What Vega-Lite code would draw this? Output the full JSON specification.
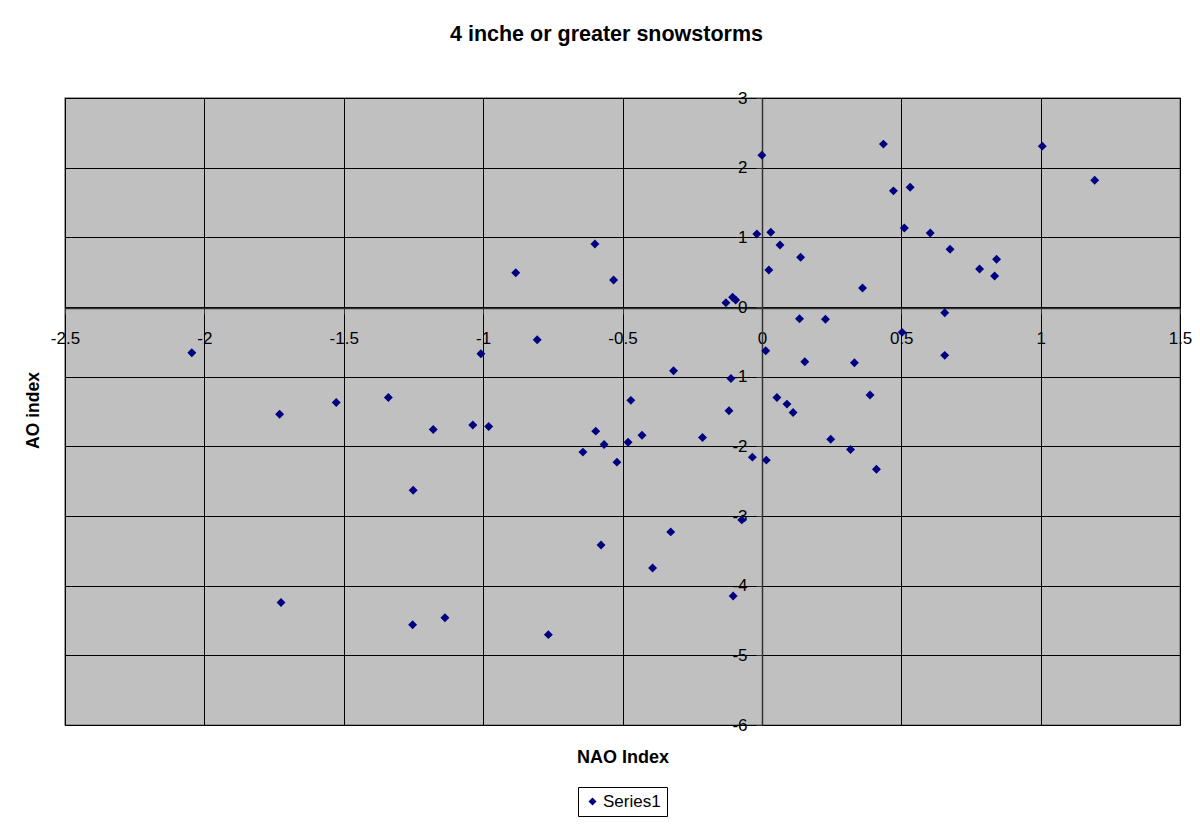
{
  "$schema": "https://vega.github.io/schema/vega-lite/v6.json",
  "width": 1115,
  "height": 627,
  "autosize": {"type": "none"},
  "padding": {"left": 65, "top": 98, "right": 20, "bottom": 100},
  "background": "white",
  "title": {"text": "4 inche or greater snowstorms", "font": "Liberation Sans", "fontSize": 21.5, "fontWeight": "bold", "color": "black", "anchor": "middle", "frame": "group", "offset": 44, "dx": -16},
  "data": {"values": [
    {"nao": -2.045, "ao": -0.657, "series": "Series1"},
    {"nao": -1.527, "ao": -1.37, "series": "Series1"},
    {"nao": -1.34, "ao": -1.3, "series": "Series1"},
    {"nao": -1.73, "ao": -1.54, "series": "Series1"},
    {"nao": -1.179, "ao": -1.757, "series": "Series1"},
    {"nao": -1.251, "ao": -2.63, "series": "Series1"},
    {"nao": -1.725, "ao": -4.243, "series": "Series1"},
    {"nao": -1.253, "ao": -4.56, "series": "Series1"},
    {"nao": -1.137, "ao": -4.46, "series": "Series1"},
    {"nao": 0.0, "ao": 2.18, "series": "Series1"},
    {"nao": -0.018, "ao": 1.049, "series": "Series1"},
    {"nao": 0.032, "ao": 1.073, "series": "Series1"},
    {"nao": 0.065, "ao": 0.89, "series": "Series1"},
    {"nao": 0.139, "ao": 0.714, "series": "Series1"},
    {"nao": 0.025, "ao": 0.53, "series": "Series1"},
    {"nao": -0.599, "ao": 0.905, "series": "Series1"},
    {"nao": -0.883, "ao": 0.493, "series": "Series1"},
    {"nao": -0.532, "ao": 0.388, "series": "Series1"},
    {"nao": -0.129, "ao": 0.062, "series": "Series1"},
    {"nao": -0.105, "ao": 0.139, "series": "Series1"},
    {"nao": -0.094, "ao": 0.1, "series": "Series1"},
    {"nao": 0.135, "ao": -0.168, "series": "Series1"},
    {"nao": 0.228, "ao": -0.177, "series": "Series1"},
    {"nao": -0.806, "ao": -0.47, "series": "Series1"},
    {"nao": -1.008, "ao": -0.671, "series": "Series1"},
    {"nao": 0.014, "ao": -0.628, "series": "Series1"},
    {"nao": 0.154, "ao": -0.786, "series": "Series1"},
    {"nao": -0.317, "ao": -0.915, "series": "Series1"},
    {"nao": -0.111, "ao": -1.025, "series": "Series1"},
    {"nao": 0.054, "ao": -1.298, "series": "Series1"},
    {"nao": 0.09, "ao": -1.394, "series": "Series1"},
    {"nao": -0.47, "ao": -1.34, "series": "Series1"},
    {"nao": -0.118, "ao": -1.49, "series": "Series1"},
    {"nao": 0.436, "ao": 2.338, "series": "Series1"},
    {"nao": 1.006, "ao": 2.309, "series": "Series1"},
    {"nao": 1.194, "ao": 1.82, "series": "Series1"},
    {"nao": 0.472, "ao": 1.667, "series": "Series1"},
    {"nao": 0.532, "ao": 1.72, "series": "Series1"},
    {"nao": 0.511, "ao": 1.135, "series": "Series1"},
    {"nao": 0.604, "ao": 1.063, "series": "Series1"},
    {"nao": 0.675, "ao": 0.829, "series": "Series1"},
    {"nao": 0.781, "ao": 0.546, "series": "Series1"},
    {"nao": 0.842, "ao": 0.685, "series": "Series1"},
    {"nao": 0.835, "ao": 0.445, "series": "Series1"},
    {"nao": 0.361, "ao": 0.273, "series": "Series1"},
    {"nao": 0.656, "ao": -0.082, "series": "Series1"},
    {"nao": 0.503, "ao": -0.364, "series": "Series1"},
    {"nao": 0.656, "ao": -0.694, "series": "Series1"},
    {"nao": 0.332, "ao": -0.8, "series": "Series1"},
    {"nao": 0.388, "ao": -1.264, "series": "Series1"},
    {"nao": -1.037, "ao": -1.695, "series": "Series1"},
    {"nao": -0.98, "ao": -1.714, "series": "Series1"},
    {"nao": 0.112, "ao": -1.513, "series": "Series1"},
    {"nao": -0.596, "ao": -1.782, "series": "Series1"},
    {"nao": -0.566, "ao": -1.973, "series": "Series1"},
    {"nao": -0.642, "ao": -2.083, "series": "Series1"},
    {"nao": -0.52, "ao": -2.227, "series": "Series1"},
    {"nao": -0.48, "ao": -1.94, "series": "Series1"},
    {"nao": -0.43, "ao": -1.84, "series": "Series1"},
    {"nao": -0.213, "ao": -1.872, "series": "Series1"},
    {"nao": -0.034, "ao": -2.155, "series": "Series1"},
    {"nao": 0.016, "ao": -2.198, "series": "Series1"},
    {"nao": 0.247, "ao": -1.897, "series": "Series1"},
    {"nao": 0.318, "ao": -2.045, "series": "Series1"},
    {"nao": 0.411, "ao": -2.328, "series": "Series1"},
    {"nao": -0.072, "ao": -3.056, "series": "Series1"},
    {"nao": -0.327, "ao": -3.228, "series": "Series1"},
    {"nao": -0.577, "ao": -3.415, "series": "Series1"},
    {"nao": -0.392, "ao": -3.746, "series": "Series1"},
    {"nao": -0.103, "ao": -4.148, "series": "Series1"},
    {"nao": -0.766, "ao": -4.703, "series": "Series1"}
  ]},
  "mark": {"type": "point", "shape": "diamond", "filled": true, "size": 80, "opacity": 1},
  "encoding": {
    "x": {
      "field": "nao", "type": "quantitative",
      "scale": {"domain": [-2.5, 1.5], "nice": false, "zero": false},
      "axis": {
        "title": "NAO Index", "orient": "bottom", "offset": -417,
        "values": [-2.5, -2, -1.5, -1, -0.5, 0, 0.5, 1, 1.5],
        "labelExpr": "datum.value + ''",
        "labelFlush": false, "labelOverlap": false,
        "labelFont": "Liberation Sans", "labelFontSize": 17, "labelColor": "black", "labelPadding": 16,
        "tickSize": 6, "tickColor": "#333333", "domainColor": "#333333", "domainWidth": 1.5,
        "grid": true, "gridColor": "black", "gridOpacity": 1, "gridWidth": 1,
        "titleFont": "Liberation Sans", "titleFontSize": 18, "titleFontWeight": "bold", "titleColor": "black",
        "titleY": 454, "titleBaseline": "alphabetic"
      }
    },
    "y": {
      "field": "ao", "type": "quantitative",
      "scale": {"domain": [-6, 3], "nice": false, "zero": false},
      "axis": {
        "title": "AO index", "orient": "left", "offset": -697,
        "values": [-6, -5, -4, -3, -2, -1, 0, 1, 2, 3],
        "labelExpr": "datum.value + ''",
        "labelFlush": false, "labelOverlap": false,
        "labelFont": "Liberation Sans", "labelFontSize": 17, "labelColor": "black", "labelPadding": 9,
        "tickSize": 6, "tickColor": "#333333", "domainColor": "#333333", "domainWidth": 1.5,
        "grid": true, "gridColor": "black", "gridOpacity": 1, "gridWidth": 1,
        "titleFont": "Liberation Sans", "titleFontSize": 17.5, "titleFontWeight": "bold", "titleColor": "black",
        "titleX": -724, "titleY": 312, "titleBaseline": "alphabetic", "titleAngle": -90
      }
    },
    "color": {
      "field": "series", "type": "nominal",
      "scale": {"range": ["#000080"]},
      "legend": {
        "title": null, "orient": "none", "legendX": 513, "legendY": 689,
        "symbolType": "diamond", "symbolSize": 64, "symbolStrokeWidth": 0,
        "labelFont": "Liberation Sans", "labelFontSize": 17, "labelColor": "black", "labelOffset": 2,
        "padding": 6, "strokeColor": "black", "fillColor": "white"
      }
    }
  },
  "config": {"view": {"fill": "#C0C0C0", "stroke": "#808080", "strokeWidth": 1.5}}
}
